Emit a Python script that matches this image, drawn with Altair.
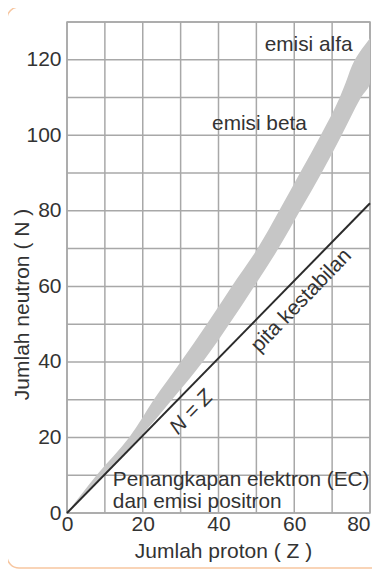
import altair as alt
import pandas as pd

# Stability band (pita kestabilan), read as horizontal extents at each N
band_N = [0, 10, 20, 30, 40, 50, 60, 70, 80, 90, 100, 110, 114, 120, 125.7]
band_Z_left = [0, 7.8, 16.4, 22.9, 30.0, 36.9, 43.5, 50.3, 56.0, 61.5, 67.0, 72.0, 73.6, 76.0, 80]
band_Z_right = [0, 9.6, 19.2, 27.7, 35.8, 42.8, 49.4, 55.8, 61.5, 67.2, 72.5, 77.6, 80, 80, 80]

# N = Z reference line
line_Z = [0, 80]
line_N = [0, 82]

# annotations
label_text = ["emisi alfa", "emisi beta", "Penangkapan elektron (EC)", "dan emisi positron"]
label_Z = [52.2, 38.3, 12.1, 12.1]
label_N = [122.4, 101.5, 7.2, 1.3]

rot_text = ["N = Z", "pita kestabilan"]
rot_Z = [32.9, 61.9]
rot_N = [26.6, 56.2]

# grid lines and labelled ticks
grid_Z = list(range(0, 81, 10))
grid_N = list(range(0, 131, 10))
x_labels = [0, 20, 40, 60, 80]
y_labels = [0, 20, 40, 60, 80, 100, 120]

FONT = "Liberation Sans"
TXT = "#333333"
GRID = "#a8a8a8"

band_df = pd.DataFrame({"N": band_N, "Zl": band_Z_left, "Zr": band_Z_right})
line_df = pd.DataFrame({"Z": line_Z, "N": line_N})
lab_df = pd.DataFrame({"t": label_text, "Z": label_Z, "N": label_N})
rot_df = pd.DataFrame({"t": rot_text, "Z": rot_Z, "N": rot_N})
gz_df = pd.DataFrame({"Z": grid_Z})
gn_df = pd.DataFrame({"N": grid_N})

xscale = alt.Scale(domain=[0, 80], nice=False, zero=False)
yscale = alt.Scale(domain=[0, 130], nice=False, zero=False)

xaxis = alt.Axis(
    values=x_labels,
    labelAlign=alt.ExprRef(expr="datum.value == 80 ? 'right' : 'center'"),
    grid=False, ticks=False, domain=False, labelFlush=False,
    labelFontSize=21, labelColor=TXT, labelFont=FONT, labelPadding=0,
    title="Jumlah proton ( Z )", titleFontSize=21, titleFontWeight="normal",
    titleColor=TXT, titleFont=FONT, titleX=156, titleY=44, titleBaseline="alphabetic",
)
yaxis = alt.Axis(
    values=y_labels,
    grid=False, ticks=False, domain=False,
    labelFontSize=21, labelColor=TXT, labelFont=FONT, labelPadding=6,
    title="Jumlah neutron ( N )", titleFontSize=21, titleFontWeight="normal",
    titleColor=TXT, titleFont=FONT, titleX=-39, titleY=282, titleBaseline="alphabetic",
)

border = alt.Chart(pd.DataFrame({"a": [0]})).mark_rect(
    fillOpacity=0, stroke="#f7c6a0", strokeWidth=1.5, cornerRadius=12
).encode(
    x=alt.value(-60), x2=alt.value(345), y=alt.value(-15), y2=alt.value(546)
)

vgrid = alt.Chart(gz_df).mark_rule(color=GRID, strokeWidth=1.5).encode(
    x=alt.X("Z:Q", scale=xscale, axis=xaxis)
)
hgrid = alt.Chart(gn_df).mark_rule(color=GRID, strokeWidth=1.5).encode(
    y=alt.Y("N:Q", scale=yscale, axis=yaxis)
)

band = alt.Chart(band_df).mark_area(
    orient="horizontal", color="#c6c6c6", opacity=1, interpolate="monotone"
).encode(
    y=alt.Y("N:Q", scale=yscale, axis=yaxis),
    x=alt.X("Zl:Q", scale=xscale, axis=xaxis, stack=None),
    x2="Zr:Q",
)

line = alt.Chart(line_df).mark_line(color="#2b2b2b", strokeWidth=2).encode(
    x=alt.X("Z:Q", scale=xscale, axis=xaxis),
    y=alt.Y("N:Q", scale=yscale, axis=yaxis),
)

labels = alt.Chart(lab_df).mark_text(
    align="left", baseline="alphabetic", font=FONT, fontSize=20.8, color=TXT
).encode(
    x=alt.X("Z:Q", scale=xscale, axis=xaxis),
    y=alt.Y("N:Q", scale=yscale, axis=yaxis),
    text="t:N",
)

rot_a = alt.Chart(rot_df.iloc[[0]]).mark_text(
    align="center", baseline="middle", font=FONT, fontSize=21, color=TXT,
    angle=314, fontStyle="italic"
).encode(
    x=alt.X("Z:Q", scale=xscale, axis=xaxis),
    y=alt.Y("N:Q", scale=yscale, axis=yaxis), text="t:N"
)
rot_b = alt.Chart(rot_df.iloc[[1]]).mark_text(
    align="center", baseline="middle", font=FONT, fontSize=21, color=TXT,
    angle=314
).encode(
    x=alt.X("Z:Q", scale=xscale, axis=xaxis),
    y=alt.Y("N:Q", scale=yscale, axis=yaxis), text="t:N"
)

chart = alt.layer(border, vgrid, hgrid, band, line, labels, rot_a, rot_b).properties(
    width=303, height=491,
    autosize=alt.AutoSizeParams(type="none"),
    padding={"left": 59, "top": 14, "right": 2, "bottom": 56},
).configure_view(
    stroke=GRID, strokeWidth=1.5
)

chart.save("out.html", embed_options={"renderer": "svg", "actions": False})
